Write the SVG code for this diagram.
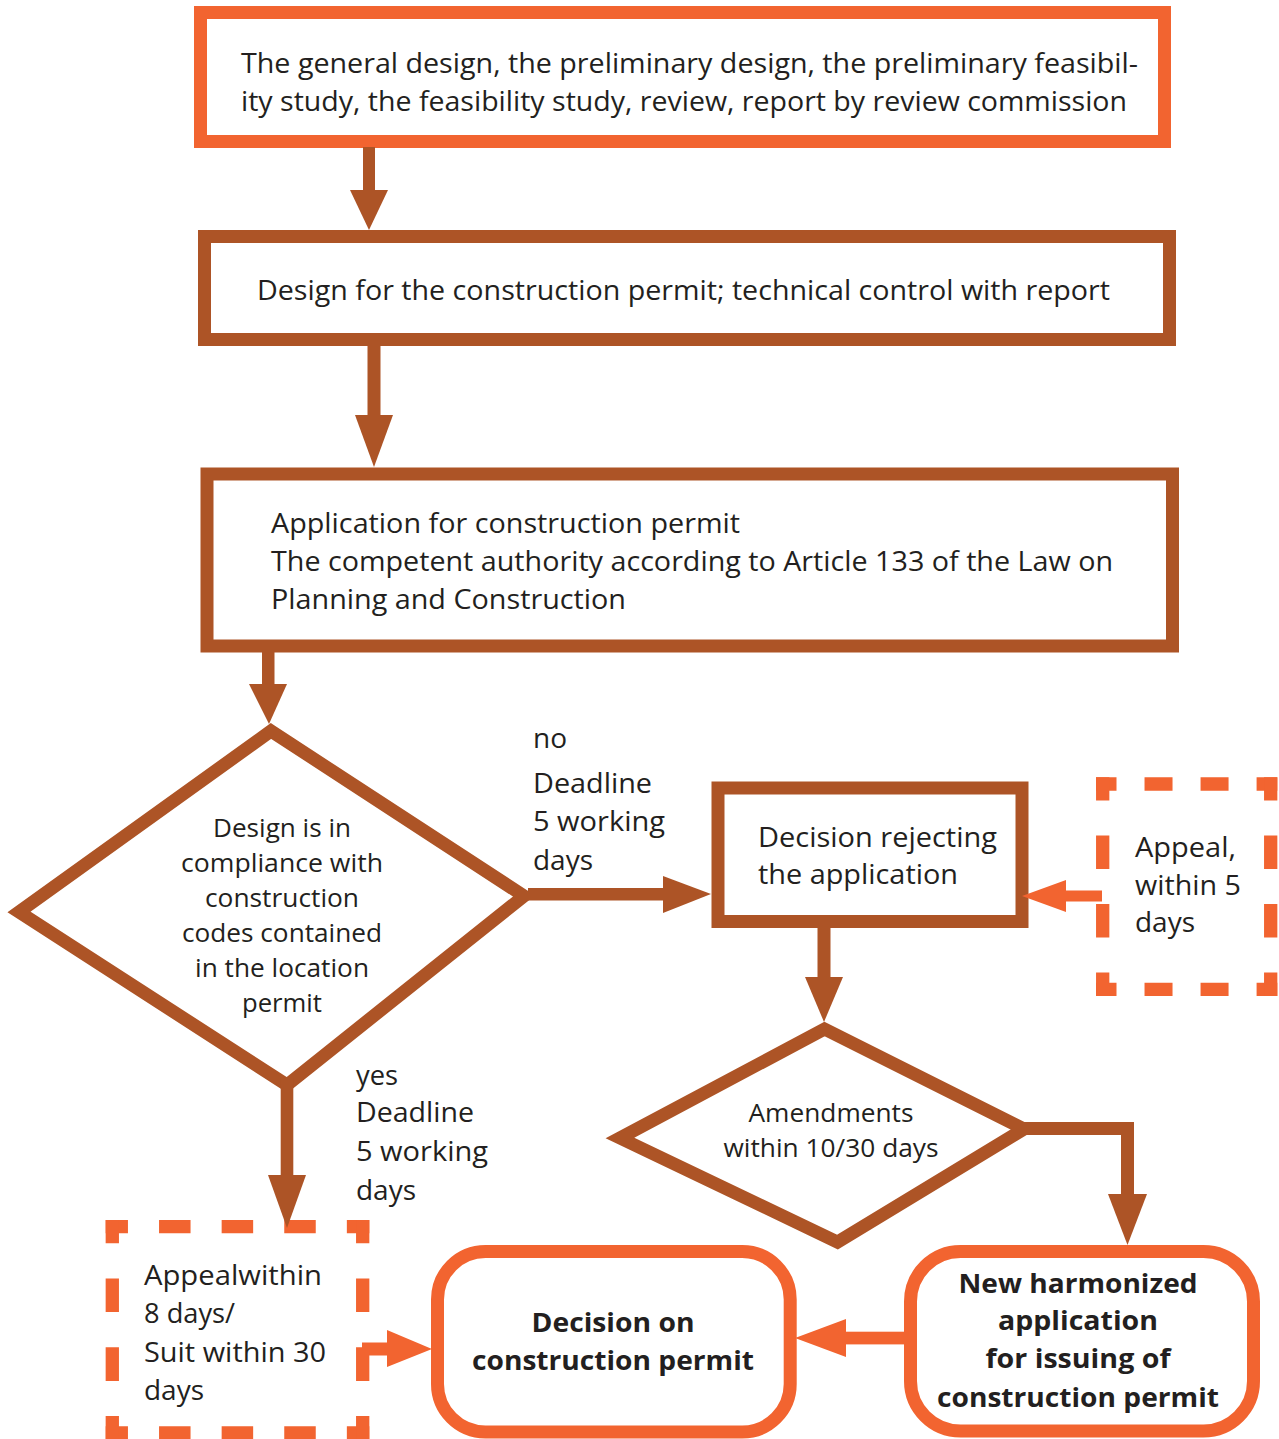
<svg xmlns="http://www.w3.org/2000/svg" width="1279" height="1439" viewBox="0 0 1279 1439">
<style>
.bg{fill:#ffffff}
.orange{fill:#ffffff;stroke:#F26430;stroke-width:13;stroke-linejoin:miter}
.brown{fill:#ffffff;stroke:#AD5426;stroke-width:13;stroke-linejoin:miter}
.dash{fill:none;stroke:#F26430;stroke-width:13.3;stroke-linecap:butt}
.t{font-family:"Open Sans","Liberation Sans",sans-serif;font-size:28px;fill:#231F20}
.s{font-family:"Open Sans","Liberation Sans",sans-serif;font-size:25px;fill:#231F20}
.b{font-family:"Open Sans","Liberation Sans",sans-serif;font-size:27px;font-weight:bold;fill:#231F20}
.m{text-anchor:middle}
.bf{fill:#AD5426}
.of{fill:#F26430}
.bs{fill:none;stroke:#AD5426;stroke-width:13;stroke-linejoin:miter}
</style>
<rect class="bg" x="0" y="0" width="1279" height="1439"/>

<g id="node-general-design">
<rect class="orange" x="200.5" y="12.5" width="964" height="129"/>
<text class="t" x="241" y="73" textLength="897" lengthAdjust="spacingAndGlyphs">The general design, the preliminary design, the preliminary feasibil-</text>
<text class="t" x="241" y="111" textLength="886" lengthAdjust="spacingAndGlyphs">ity study, the feasibility study, review, report by review commission</text>
</g>

<g id="node-design-permit">
<rect class="brown" x="204.5" y="236.5" width="965" height="103"/>
<text class="t" x="257" y="300" textLength="853" lengthAdjust="spacingAndGlyphs">Design for the construction permit; technical control with report</text>
</g>

<g id="node-application">
<rect class="brown" x="207" y="474" width="965.5" height="172"/>
<text class="t" x="271" y="533" textLength="469" lengthAdjust="spacingAndGlyphs">Application for construction permit</text>
<text class="t" x="271" y="571" textLength="842" lengthAdjust="spacingAndGlyphs">The competent authority according to Article 133 of the Law on</text>
<text class="t" x="271" y="609" textLength="355" lengthAdjust="spacingAndGlyphs">Planning and Construction</text>
</g>

<g id="node-compliance">
<polygon class="brown" points="271,731 524,896 287,1085 19,912"/>
<text class="s m" x="282" y="837" textLength="138" lengthAdjust="spacingAndGlyphs">Design is in</text>
<text class="s m" x="282" y="872" textLength="202" lengthAdjust="spacingAndGlyphs">compliance with</text>
<text class="s m" x="282" y="907" textLength="154" lengthAdjust="spacingAndGlyphs">construction</text>
<text class="s m" x="282" y="942" textLength="200" lengthAdjust="spacingAndGlyphs">codes contained</text>
<text class="s m" x="282" y="977" textLength="174" lengthAdjust="spacingAndGlyphs">in the location</text>
<text class="s m" x="282" y="1012" textLength="80" lengthAdjust="spacingAndGlyphs">permit</text>
</g>

<g id="node-rejecting">
<rect class="brown" x="718" y="788" width="304" height="133.5"/>
<text class="t" x="758" y="847" textLength="239" lengthAdjust="spacingAndGlyphs">Decision rejecting</text>
<text class="t" x="758" y="884" textLength="200" lengthAdjust="spacingAndGlyphs">the application</text>
</g>

<g id="node-appeal-5">
<line class="dash" x1="1096" y1="784" x2="1277.3" y2="784" stroke-dasharray="28 28.03" stroke-dashoffset="7.5"/>
<line class="dash" x1="1096" y1="989.3" x2="1277.3" y2="989.3" stroke-dasharray="28 28.03" stroke-dashoffset="7.5"/>
<line class="dash" x1="1102.7" y1="777.3" x2="1102.7" y2="996" stroke-dasharray="33.4 35.04" stroke-dashoffset="10.2"/>
<line class="dash" x1="1270.7" y1="777.3" x2="1270.7" y2="996" stroke-dasharray="33.4 35.04" stroke-dashoffset="10.2"/>
<text class="t" x="1135" y="857" textLength="101" lengthAdjust="spacingAndGlyphs">Appeal,</text>
<text class="t" x="1135" y="895" textLength="106" lengthAdjust="spacingAndGlyphs">within 5</text>
<text class="t" x="1135" y="932" textLength="60" lengthAdjust="spacingAndGlyphs">days</text>
</g>

<g id="node-amendments">
<polygon class="brown" points="824.5,1029 1024,1129 837.5,1242 620,1138"/>
<text class="s m" x="831" y="1122" textLength="165" lengthAdjust="spacingAndGlyphs">Amendments</text>
<text class="s m" x="831" y="1157" textLength="215" lengthAdjust="spacingAndGlyphs">within 10/30 days</text>
</g>

<g id="node-appeal-8">
<line class="dash" x1="105.7" y1="1226.7" x2="369.3" y2="1226.7" stroke-dasharray="31.5 31.1" stroke-dashoffset="9.25"/>
<line class="dash" x1="105.7" y1="1433" x2="369.3" y2="1433" stroke-dasharray="31.5 31.1" stroke-dashoffset="9.25"/>
<line class="dash" x1="112.3" y1="1220" x2="112.3" y2="1439.5" stroke-dasharray="33.6 35.2" stroke-dashoffset="10.3"/>
<line class="dash" x1="362.7" y1="1220" x2="362.7" y2="1439.5" stroke-dasharray="33.6 35.2" stroke-dashoffset="10.3"/>
<text class="t" x="144" y="1285" textLength="178" lengthAdjust="spacingAndGlyphs">Appealwithin</text>
<text class="t" x="144" y="1323" textLength="91" lengthAdjust="spacingAndGlyphs">8 days/</text>
<text class="t" x="144" y="1362" textLength="182" lengthAdjust="spacingAndGlyphs">Suit within 30</text>
<text class="t" x="144" y="1400" textLength="60" lengthAdjust="spacingAndGlyphs">days</text>
</g>

<g id="node-decision-permit">
<rect class="orange" x="437.5" y="1251.5" width="352.7" height="180.5" rx="48" ry="48"/>
<text class="b m" x="613" y="1332" textLength="163" lengthAdjust="spacingAndGlyphs">Decision on</text>
<text class="b m" x="613" y="1370" textLength="282" lengthAdjust="spacingAndGlyphs">construction permit</text>
</g>

<g id="node-new-application">
<rect class="orange" x="910.5" y="1251.5" width="343" height="179.5" rx="50" ry="50"/>
<text class="b m" x="1078" y="1293" textLength="239" lengthAdjust="spacingAndGlyphs">New harmonized</text>
<text class="b m" x="1078" y="1330" textLength="160" lengthAdjust="spacingAndGlyphs">application</text>
<text class="b m" x="1078" y="1368" textLength="185" lengthAdjust="spacingAndGlyphs">for issuing of</text>
<text class="b m" x="1078" y="1407" textLength="282" lengthAdjust="spacingAndGlyphs">construction permit</text>
</g>

<g id="connectors">
<rect class="bf" x="363" y="147" width="12" height="44"/>
<polygon class="bf" points="350,190 388,190 369,230"/>
<rect class="bf" x="367.5" y="345" width="13" height="71"/>
<polygon class="bf" points="355,415 393,415 374,467"/>
<rect class="bf" x="262" y="651" width="12.5" height="34"/>
<polygon class="bf" points="249,684 287,684 269,724"/>
<rect class="bf" x="528" y="888" width="136" height="12.5"/>
<polygon class="bf" points="663,876 663,913 711,894"/>
<rect class="of" x="1064" y="890.5" width="38" height="11"/>
<polygon class="of" points="1066,880 1066,912 1022,896"/>
<rect class="bf" x="817.5" y="926" width="13" height="52"/>
<polygon class="bf" points="805,977 843,977 824,1022"/>
<polyline class="bs" points="1020,1128.5 1127.5,1128.5 1127.5,1195"/>
<polygon class="bf" points="1108,1194 1147,1194 1127.5,1245"/>
<rect class="bf" x="280.7" y="1078" width="12.6" height="98"/>
<polygon class="bf" points="268,1175 306,1175 287,1228"/>
<g id="label-no">
<text class="t" x="533" y="748" textLength="34" lengthAdjust="spacingAndGlyphs">no</text>
<text class="t" x="533" y="793" textLength="119" lengthAdjust="spacingAndGlyphs">Deadline</text>
<text class="t" x="533" y="831" textLength="132" lengthAdjust="spacingAndGlyphs">5 working</text>
<text class="t" x="533" y="870" textLength="60" lengthAdjust="spacingAndGlyphs">days</text>
</g>
<g id="label-yes">
<text class="t" x="356" y="1085" textLength="42" lengthAdjust="spacingAndGlyphs">yes</text>
<text class="t" x="356" y="1122" textLength="118" lengthAdjust="spacingAndGlyphs">Deadline</text>
<text class="t" x="356" y="1161" textLength="132" lengthAdjust="spacingAndGlyphs">5 working</text>
<text class="t" x="356" y="1200" textLength="60" lengthAdjust="spacingAndGlyphs">days</text>
</g>
<rect class="of" x="362" y="1342.5" width="26" height="13"/>
<polygon class="of" points="387,1330 387,1367 432,1349"/>
<rect class="of" x="845" y="1331.7" width="60" height="12.7"/>
<polygon class="of" points="846,1319 846,1357 795,1338"/>
</g>
</svg>
